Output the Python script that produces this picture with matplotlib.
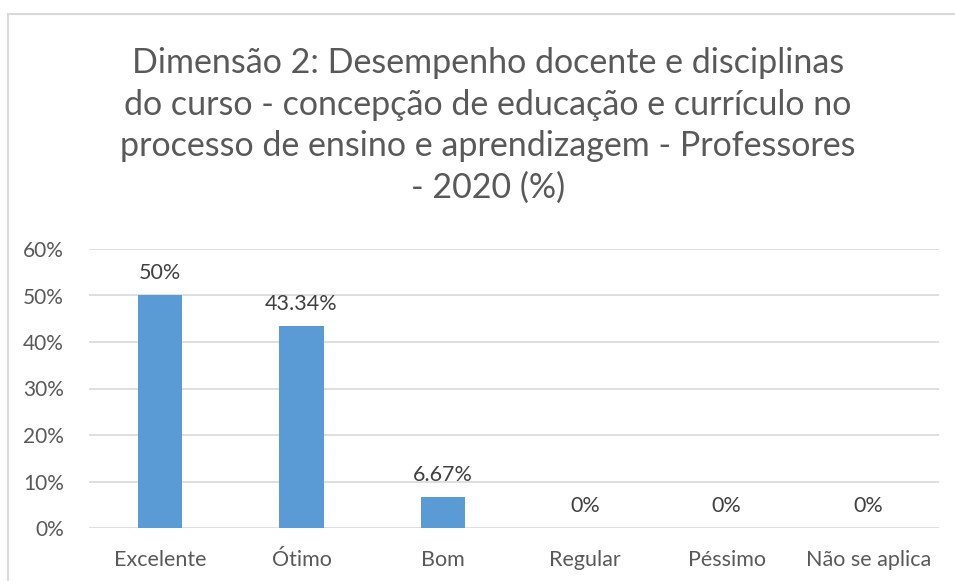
import matplotlib.pyplot as plt
from matplotlib.patches import Rectangle
import numpy as np

plt.rcParams['font.family'] = ['Lato', 'DejaVu Sans']

categorias = ['Excelente', 'Ótimo', 'Bom', 'Regular', 'Péssimo', 'Não se aplica']
valores = [50, 43.34, 6.67, 0, 0, 0]
rotulos = ['50%', '43.34%', '6.67%', '0%', '0%', '0%']
titulo = ('Dimensão 2: Desempenho docente e disciplinas\n'
          'do curso - concepção de educação e currículo no\n'
          'processo de ensino e aprendizagem - Professores\n'
          '- 2020 (%)')

W, H = 955, 581
fig = plt.figure(figsize=(W / 100, H / 100), dpi=100)
# moldura do gráfico (cortada à direita e embaixo)
fig.patches.append(Rectangle((8 / W, -0.1), 1.2, 1.1 - 14 / H, transform=fig.transFigure,
                             fill=False, edgecolor='#d9d9d9', linewidth=1.5))

ax = fig.add_axes([89 / W, 1 - 528 / H, 850 / W, (528 - 249) / H])
x = np.arange(len(categorias))
ax.bar(x, valores, width=0.315, color='#5b9bd5', zorder=3)
ax.set_xlim(-0.5, len(categorias) - 0.5)
ax.set_ylim(0, 60)
ax.set_yticks(np.arange(0, 61, 10))
ax.set_yticklabels([f'{v}%' for v in range(0, 61, 10)])
ax.set_xticks(x)
ax.set_xticklabels(categorias)
ax.yaxis.grid(True, color='#d9d9d9', linewidth=1.2, zorder=0)
for s in ax.spines.values():
    s.set_visible(False)
ax.tick_params(length=0, labelsize=15, colors='#595959', pad=18)
ax.tick_params(axis='x', labelsize=15.5, pad=16)

for xi, v, r in zip(x, valores, rotulos):
    ax.text(xi, v + 2.6, r, ha='center', va='bottom', fontsize=15.5, color='#404040')

fig.text(488 / W, 1 - 47 / H, titulo, ha='center', va='top', fontsize=24.5,
         color='#595959', linespacing=1.37)

fig.savefig('out.png', dpi=100)
